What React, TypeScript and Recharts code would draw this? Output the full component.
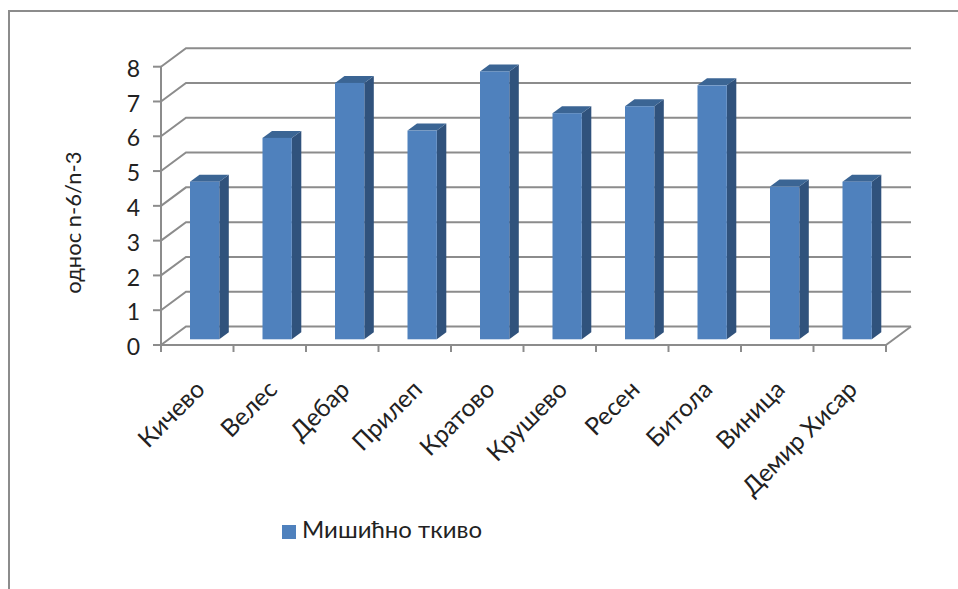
import {Bar, BarChart, CartesianGrid, Legend, XAxis, YAxis} from 'recharts';

const CITIES = ['Кичево', 'Велес', 'Дебар', 'Прилеп', 'Кратово', 'Крушево', 'Ресен', 'Битола', 'Виница', 'Демир Хисар'];
const RATIOS = [4.53, 5.79, 7.37, 6.0, 7.7, 6.5, 6.7, 7.3, 4.39, 4.53];
const Y_TICKS = [0, 1, 2, 3, 4, 5, 6, 7, 8];

const data = CITIES.map((city, i) => ({city, ratio: RATIOS[i]}));

const FONT = 'Lato, "Open Sans", sans-serif';
const GRID = '#8c8c8c';
const TEXT = '#222';

// how far the back wall sits behind the front plane
const WALL_DX = 25;
const WALL_DY = 18.5;
// the bars stand partway between the front plane and the wall
const BAR_DX = 7;
const BAR_DY = 5.7;
const BAR_DEPTH_X = 9.5;
const BAR_DEPTH_Y = 7;

function WallLine({x1, x2, y1, index}: any) {
    const back = y1 - WALL_DY;
    return (
        <g key={index} fill="none" stroke={GRID} strokeWidth={2}>
            <path d={`M${x1},${y1}L${x1 + WALL_DX},${back}L${x2 + WALL_DX},${back}`}/>
            {/* floor edge on the right, only for the zero line */}
            {y1 > 340 && <path d={`M${x2},${y1}L${x2 + WALL_DX},${back}`}/>}
        </g>
    );
}

function Bar3D({x, y, width, height}: any) {
    const left = x + BAR_DX;
    const right = left + width;
    const top = y - BAR_DY;
    const bottom = y + height - BAR_DY;
    return (
        <g>
            <path
                d={`M${right},${top}L${right + BAR_DEPTH_X},${top - BAR_DEPTH_Y}L${right + BAR_DEPTH_X},${bottom - BAR_DEPTH_Y}L${right},${bottom}Z`}
                fill="#30527c"
            />
            <path
                d={`M${left},${top}L${left + BAR_DEPTH_X},${top - BAR_DEPTH_Y}L${right + BAR_DEPTH_X},${top - BAR_DEPTH_Y}L${right},${top}Z`}
                fill="#3b6594"
            />
            <rect x={left} y={top} width={width} height={height} fill="#4f81bd"/>
        </g>
    );
}

function CityTick({x, y, payload, index}: any) {
    const step = 72.5;
    const tx = x + 9;
    const ty = y + 38;
    return (
        <g>
            <line x1={x + step / 2} x2={x + step / 2} y1={y - 8} y2={y - 1} stroke={GRID} strokeWidth={2}/>
            {index === 0 && <line x1={x - step / 2} x2={x - step / 2} y1={y - 8} y2={y - 1} stroke={GRID} strokeWidth={2}/>}
            <text
                x={tx}
                y={ty}
                textAnchor="end"
                fontSize={24.5}
                fontFamily={FONT}
                fill={TEXT}
                transform={`rotate(-45 ${tx} ${ty})`}
            >
                {payload.value}
            </text>
        </g>
    );
}

export default function App() {
    return (
        <div style={{position: 'absolute', left: 0, top: 0, width: 958, height: 589, overflow: 'hidden', background: '#fff'}}>
            <div style={{position: 'absolute', left: 8, top: 10, width: 950, height: 579, borderTop: `2.5px solid ${GRID}`, borderLeft: `2.5px solid ${GRID}`, boxSizing: 'border-box'}}/>
            <BarChart
                width={958}
                height={589}
                data={data}
                margin={{top: 66.7, right: 72, bottom: 144, left: 61}}
                barSize={29.3}
            >
                <CartesianGrid vertical={false} horizontal={(props: any) => <WallLine {...props}/>}/>
                <XAxis
                    dataKey="city"
                    interval={0}
                    height={100}
                    tickLine={false}
                    axisLine={{stroke: GRID, strokeWidth: 2}}
                    tick={(props: any) => <CityTick {...props}/>}
                />
                <YAxis
                    width={100}
                    domain={[0, 8]}
                    ticks={Y_TICKS}
                    interval={0}
                    tickSize={8}
                    tickMargin={13}
                    tickLine={{stroke: GRID, strokeWidth: 2}}
                    axisLine={{stroke: GRID, strokeWidth: 2}}
                    tick={{fontSize: 23, fontFamily: FONT, fill: TEXT, dy: 2}}
                    label={{
                        value: 'однос n-6/n-3',
                        angle: -90,
                        position: 'insideLeft',
                        offset: 0,
                        dx: 12,
                        dy: 88,
                        style: {fontSize: 22, fontFamily: FONT, fill: TEXT},
                    }}
                />
                <Legend
                    layout="horizontal"
                    align="center"
                    verticalAlign="middle"
                    iconType="square"
                    iconSize={14}
                    wrapperStyle={{left: 267, top: 514, width: 240, fontFamily: FONT, fontSize: 24}}
                    formatter={(value: string) => <span style={{color: TEXT, marginLeft: 2}}>{value}</span>}
                />
                <Bar dataKey="ratio" name="Мишићно ткиво" fill="#4f81bd" isAnimationActive={false} shape={(props: any) => <Bar3D {...props}/>}/>
            </BarChart>
        </div>
    );
}
